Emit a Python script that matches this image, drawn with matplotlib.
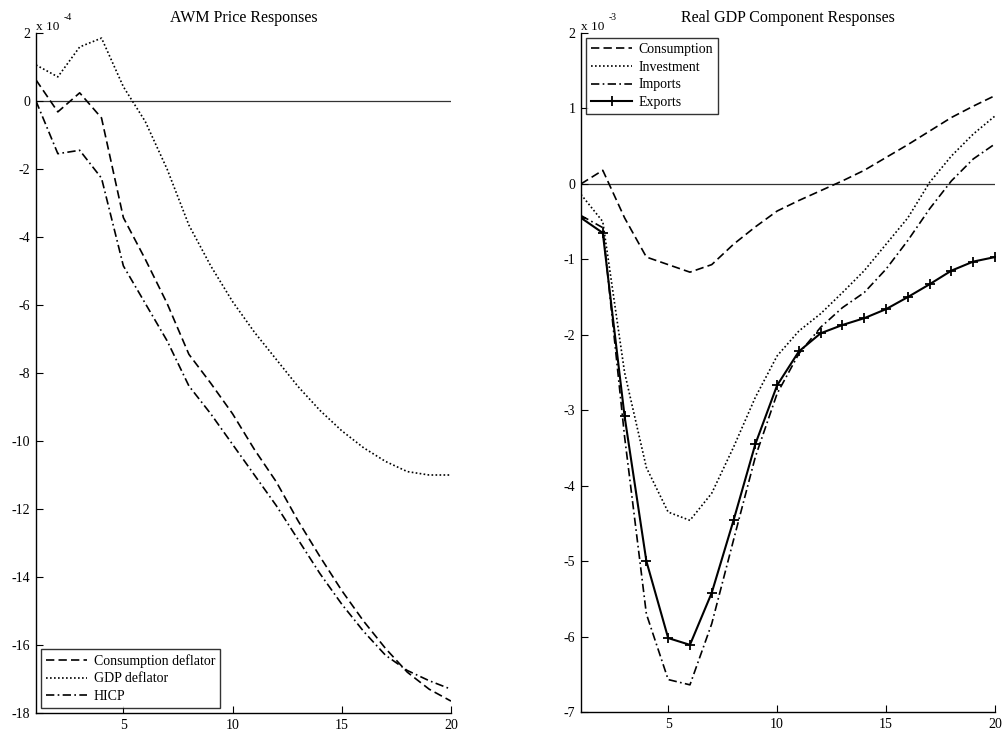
import matplotlib
matplotlib.use('Agg')
import matplotlib.pyplot as plt
import numpy as np

plt.rcParams['font.family'] = ['Liberation Serif', 'DejaVu Serif']

# horizon (quarters)
h = np.arange(1, 21)

# AWM price responses, in units of 1e-4
cons_defl = [0.62, -0.32, 0.24, -0.50, -3.43, -4.65, -5.95, -7.45, -8.30, -9.20,
             -10.25, -11.20, -12.35, -13.40, -14.40, -15.30, -16.10, -16.80, -17.30, -17.65]
gdp_defl = [1.06, 0.71, 1.59, 1.85, 0.42, -0.60, -2.00, -3.65, -4.85, -5.90,
            -6.80, -7.60, -8.40, -9.10, -9.70, -10.20, -10.60, -10.90, -11.00, -11.00]
hicp = [0.00, -1.55, -1.45, -2.27, -4.85, -5.95, -7.05, -8.38, -9.20, -10.10,
        -11.00, -11.90, -12.90, -13.90, -14.80, -15.60, -16.30, -16.75, -17.05, -17.30]

# Real GDP component responses, in units of 1e-3
consumption = [0.00, 0.18, -0.45, -0.97, -1.07, -1.17, -1.07, -0.80, -0.57, -0.36,
               -0.22, -0.09, 0.04, 0.18, 0.35, 0.52, 0.70, 0.88, 1.03, 1.17]
investment = [-0.14, -0.50, -2.50, -3.76, -4.35, -4.46, -4.10, -3.49, -2.83, -2.28,
              -1.95, -1.72, -1.44, -1.15, -0.80, -0.45, 0.02, 0.37, 0.66, 0.90]
imports = [-0.42, -0.58, -3.35, -5.70, -6.57, -6.64, -5.83, -4.72, -3.62, -2.78,
           -2.25, -1.90, -1.64, -1.44, -1.13, -0.75, -0.33, 0.04, 0.33, 0.53]
exports = [-0.45, -0.65, -3.08, -5.00, -6.02, -6.11, -5.42, -4.46, -3.45, -2.67,
           -2.22, -1.98, -1.87, -1.78, -1.66, -1.50, -1.33, -1.15, -1.03, -0.97]

W, H = 1002, 731
fig = plt.figure(figsize=(W / 100, H / 100), dpi=100)

def make_axes(x0, x1, y0, y1):
    return fig.add_axes([x0 / W, 1 - y1 / H, (x1 - x0) / W, (y1 - y0) / H])

def style(ax, ymin, ymax, yticks, expo, title):
    ax.set_xlim(1, 20)
    ax.set_ylim(ymin, ymax)
    ax.set_xticks([5, 10, 15, 20])
    ax.set_yticks(yticks)
    ax.set_yticklabels([str(t) for t in yticks])
    for s in ['top', 'right']:
        ax.spines[s].set_visible(False)
    for s in ['left', 'bottom']:
        ax.spines[s].set_linewidth(1.0)
    ax.tick_params(direction='in', length=5, width=0.8, labelsize=10, pad=4)
    ax.axhline(0, color='#333333', lw=0.9, zorder=1)
    ax.set_title(title, fontsize=11.5, pad=8)
    ax.text(0, 1.0, 'x 10', transform=ax.transAxes, fontsize=9.5, ha='left', va='bottom')
    ax.annotate(expo, xy=(0, 1.0), xycoords='axes fraction', xytext=(28, 11),
                textcoords='offset pixels', fontsize=7, ha='left', va='bottom')

def boxed_legend(ax, loc):
    leg = ax.legend(loc=loc, fontsize=10, frameon=True, fancybox=False,
                    handlelength=3.0, borderaxespad=0.35, labelspacing=0.35,
                    handletextpad=0.45, borderpad=0.35)
    leg.get_frame().set_edgecolor('k')
    leg.get_frame().set_linewidth(1.0)
    return leg

ls_dash = (0, (5, 2.5))
ls_dot = (0, (1, 1.4))
ls_dashdot = (0, (5, 2, 1, 2))

# left panel
ax1 = make_axes(36, 451, 33, 713)
ax1.plot(h, cons_defl, color='k', lw=1.2, linestyle=ls_dash, label='Consumption deflator')
ax1.plot(h, gdp_defl, color='k', lw=1.2, linestyle=ls_dot, label='GDP deflator')
ax1.plot(h, hicp, color='k', lw=1.2, linestyle=ls_dashdot, label='HICP')
style(ax1, -18, 2, list(range(-18, 3, 2)), '-4', 'AWM Price Responses')
boxed_legend(ax1, 'lower left')

# right panel
ax2 = make_axes(581, 995, 33, 712)
ax2.plot(h, consumption, color='k', lw=1.2, linestyle=ls_dash, label='Consumption')
ax2.plot(h, investment, color='k', lw=1.2, linestyle=ls_dot, label='Investment')
ax2.plot(h, imports, color='k', lw=1.2, linestyle=ls_dashdot, label='Imports')
ax2.plot(h, exports, color='k', lw=1.5, marker='+', markersize=7, mew=1.3, label='Exports')
style(ax2, -7, 2, list(range(-7, 3)), '-3', 'Real GDP Component Responses')
boxed_legend(ax2, 'upper left')

fig.savefig('out.png', dpi=100)
